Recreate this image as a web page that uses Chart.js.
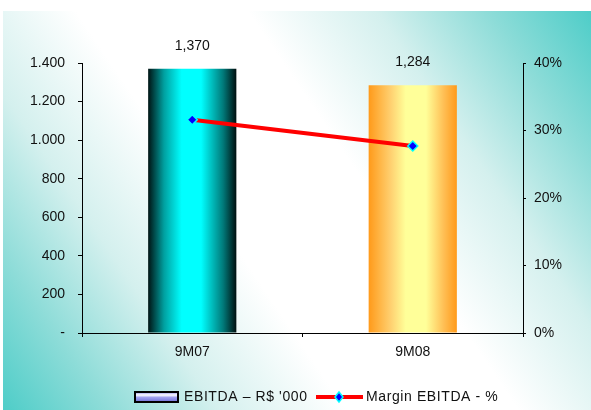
<!DOCTYPE html>
<html>
<head>
<meta charset="utf-8">
<script src="https://cdn.jsdelivr.net/npm/chart.js@4/dist/chart.umd.min.js"></script>
<style>
  html, body { margin: 0; padding: 0; background: #ffffff; }
  #wrap { width: 591px; height: 410px; }
</style>
</head>
<body>
<div id="wrap"><canvas id="c" width="591" height="410"></canvas></div>
<script>
// EBITDA (R$ '000) and EBITDA margin (%) for the nine-month periods
const categories = ['9M07', '9M08'];
const ebitda = [1370, 1284];
const margin = [31.6, 27.7];
const ebitdaLabels = ['1,370', '1,284'];
const leftTicks = [0, 200, 400, 600, 800, 1000, 1200, 1400];
const rightTicks = [0, 10, 20, 30, 40];
const legendNames = ['EBITDA \u2013 R$ \'000', 'Margin EBITDA - %'];

const FONT = '"Liberation Sans", Arial, sans-serif';
const BAR_FRACTION = 0.4;

// Horizontal shading for each bar (cylinder look)
const barStops = [
  [[0, '#001414'], [0.18, '#00a0a0'], [0.38, '#00ffff'], [0.6, '#00ffff'], [0.85, '#007a7a'], [1, '#000f0f']],
  [[0, '#ff9a1a'], [0.25, '#ffd070'], [0.42, '#ffff99'], [0.65, '#ffff99'], [0.85, '#ffbf55'], [1, '#ff9a1a']]
];

function barFill(ctx) {
  const chart = ctx.chart;
  const area = chart.chartArea;
  const fallback = ctx.dataIndex === 0 ? '#00e0e0' : '#ffcc66';
  if (!area || ctx.type !== 'data') return fallback;
  const x = chart.scales.x;
  const cx = x.getPixelForValue(ctx.dataIndex);
  const w = x.width / categories.length * BAR_FRACTION;
  const g = chart.ctx.createLinearGradient(cx - w / 2, 0, cx + w / 2, 0);
  barStops[ctx.dataIndex].forEach(s => g.addColorStop(s[0], s[1]));
  return g;
}

// Page background: teal corners fading to white along the diagonal
const backdrop = {
  id: 'backdrop',
  beforeDraw(chart) {
    const c = chart.ctx;
    c.save();
    c.fillStyle = '#ffffff';
    c.fillRect(0, 0, chart.width, chart.height);
    const x0 = 3, y0 = 11, x1 = chart.width, y1 = chart.height;
    const g = c.createLinearGradient(x1, y0, x0, y1);
    g.addColorStop(0, '#4ecdc8');
    g.addColorStop(0.12, '#8ddcd8');
    g.addColorStop(0.25, '#d4f0ee');
    g.addColorStop(0.4, '#ffffff');
    g.addColorStop(0.6, '#ffffff');
    g.addColorStop(0.75, '#d4f0ee');
    g.addColorStop(0.88, '#8ddcd8');
    g.addColorStop(1, '#4ecdc8');
    c.fillStyle = g;
    c.fillRect(x0, y0, x1 - x0, y1 - y0);
    c.restore();
  }
};

// Value labels above the bars
const barValues = {
  id: 'barValues',
  afterDatasetsDraw(chart) {
    const meta = chart.getDatasetMeta(1);
    const c = chart.ctx;
    c.save();
    c.font = '14px ' + FONT;
    c.fillStyle = '#111111';
    c.textAlign = 'center';
    c.textBaseline = 'middle';
    meta.data.forEach((bar, i) => {
      c.fillText(ebitdaLabels[i], bar.x, bar.y - 23);
    });
    c.restore();
  }
};

// Legend row under the axis
const legendRow = {
  id: 'legendRow',
  afterDraw(chart) {
    const c = chart.ctx;
    const y = 397;
    c.save();
    // bar swatch
    const sg = c.createLinearGradient(0, y - 5, 0, y + 5);
    sg.addColorStop(0, '#8a8ae8');
    sg.addColorStop(0.3, '#ffffff');
    sg.addColorStop(0.55, '#a0a0f0');
    sg.addColorStop(1, '#7070d8');
    c.fillStyle = sg;
    c.fillRect(135, y - 5, 43, 10);
    c.lineWidth = 2;
    c.strokeStyle = '#000000';
    c.strokeRect(135, y - 5, 43, 10);
    // line swatch
    c.beginPath();
    c.moveTo(316, y);
    c.lineTo(363, y);
    c.lineWidth = 4;
    c.strokeStyle = '#ff0000';
    c.stroke();
    c.beginPath();
    c.moveTo(339, y - 5);
    c.lineTo(343, y);
    c.lineTo(339, y + 5);
    c.lineTo(335, y);
    c.closePath();
    c.fillStyle = '#0000ff';
    c.fill();
    c.lineWidth = 1.5;
    c.strokeStyle = '#00ffff';
    c.stroke();
    // labels
    c.font = '14px ' + FONT;
    c.fillStyle = '#111111';
    c.textAlign = 'left';
    c.textBaseline = 'middle';
    c.letterSpacing = '0.6px';
    c.fillText(legendNames[0], 184, y);
    c.fillText(legendNames[1], 366, y);
    c.restore();
  }
};

const axisColor = '#000000';

new Chart(document.getElementById('c'), {
  data: {
    labels: categories,
    datasets: [
      {
        type: 'line',
        label: legendNames[1],
        data: margin,
        yAxisID: 'y1',
        order: 1,
        borderColor: '#ff0000',
        borderWidth: 4,
        tension: 0,
        pointStyle: 'rectRot',
        pointRadius: 5,
        pointHoverRadius: 5,
        pointBackgroundColor: '#0000ff',
        pointBorderColor: '#00ffff',
        pointBorderWidth: 1.5
      },
      {
        type: 'bar',
        label: legendNames[0],
        data: ebitda,
        yAxisID: 'y',
        order: 2,
        backgroundColor: barFill,
        borderWidth: 0,
        barPercentage: BAR_FRACTION,
        categoryPercentage: 1
      }
    ]
  },
  options: {
    responsive: false,
    animation: false,
    devicePixelRatio: 1,
    layout: { padding: { top: 63, left: 0, right: 0, bottom: 0 } },
    plugins: {
      legend: { display: false },
      tooltip: { enabled: false }
    },
    scales: {
      x: {
        offset: true,
        grid: { display: true, drawOnChartArea: false, drawTicks: true, tickLength: 4, color: axisColor, offset: true },
        border: { display: true, color: axisColor, width: 1 },
        ticks: { color: '#111111', font: { family: FONT, size: 14 }, padding: 7 },
        afterFit(s) { s.height = 77; }
      },
      y: {
        position: 'left',
        min: 0,
        max: 1400,
        afterBuildTicks(s) { s.ticks = leftTicks.map(v => ({ value: v })); },
        grid: { display: true, drawOnChartArea: false, drawTicks: true, tickLength: 4, color: axisColor },
        border: { display: true, color: axisColor, width: 1 },
        ticks: {
          color: '#111111',
          font: { family: FONT, size: 14 },
          padding: 13,
          callback: v => v === 0 ? '-' : String(v).replace(/\B(?=(\d{3})+(?!\d))/g, '.')
        },
        afterFit(s) { s.width = 82; }
      },
      y1: {
        position: 'right',
        min: 0,
        max: 40,
        afterBuildTicks(s) { s.ticks = rightTicks.map(v => ({ value: v })); },
        grid: { display: true, drawOnChartArea: false, drawTicks: true, tickLength: 3, color: axisColor },
        border: { display: true, color: axisColor, width: 1 },
        ticks: {
          color: '#111111',
          font: { family: FONT, size: 14 },
          padding: 8,
          callback: v => v + '%'
        },
        afterFit(s) { s.width = 68; }
      }
    }
  },
  plugins: [backdrop, barValues, legendRow]
});
</script>
</body>
</html>
